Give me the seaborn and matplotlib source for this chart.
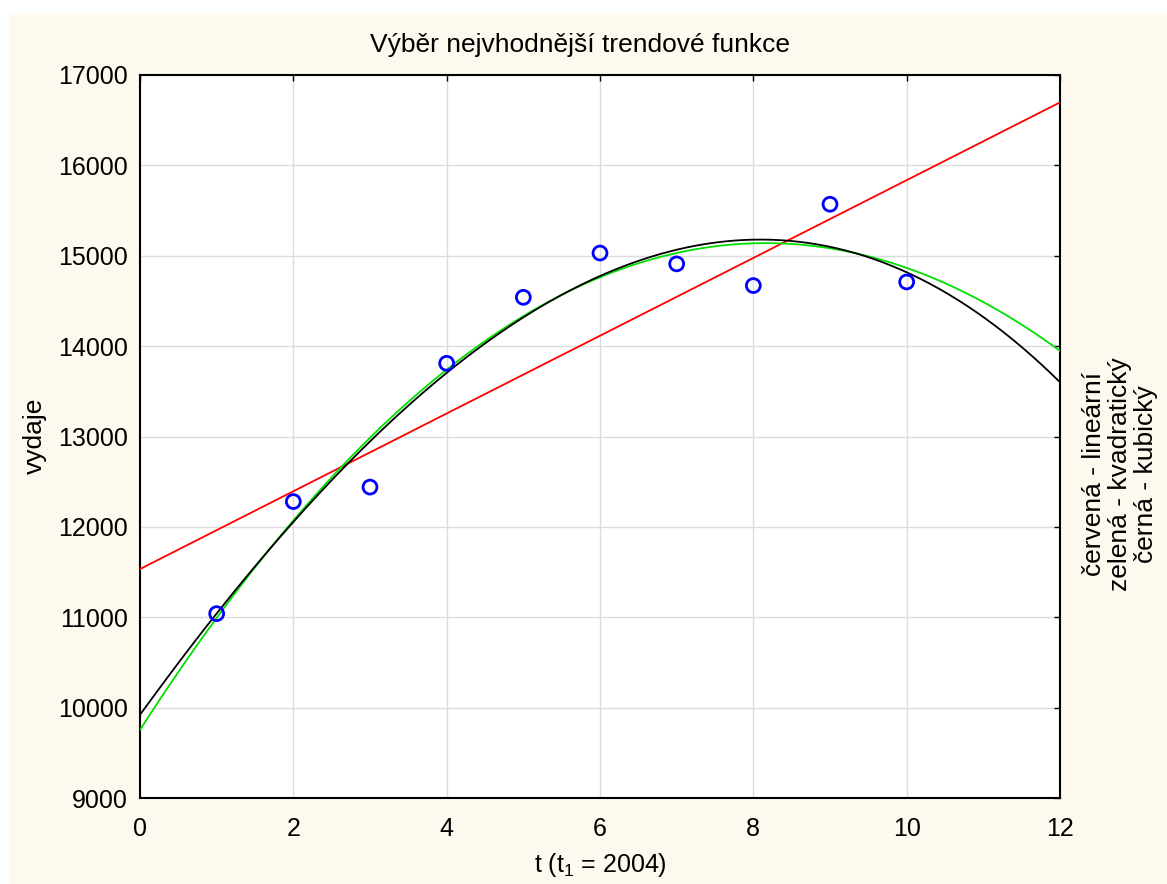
import matplotlib
matplotlib.use("Agg")
import matplotlib.pyplot as plt
import seaborn as sns
import pandas as pd
from matplotlib.patches import Rectangle

t = [1, 2, 3, 4, 5, 6, 7, 8, 9, 10]
vydaje = [11040, 12280, 12440, 13810, 14540, 15030, 14910, 14670, 15570, 14710]
x_ticks = [0, 2, 4, 6, 8, 10, 12]
y_ticks = [9000, 10000, 11000, 12000, 13000, 14000, 15000, 16000, 17000]
title = "Výběr nejvhodnější trendové funkce"
xlabel = "t (t$_1$ = 2004)"
ylabel = "vydaje"
note = "červená - lineární\nzelená - kvadratický\nčerná - kubický"

df = pd.DataFrame({"t": t, "vydaje": vydaje})

sns.set_style("white")
plt.rcParams["font.family"] = ["Liberation Sans", "DejaVu Sans"]
plt.rcParams["mathtext.fontset"] = "custom"
plt.rcParams["mathtext.rm"] = "Liberation Sans"
plt.rcParams["text.color"] = "black"

W, H = 1167, 884
fig = plt.figure(figsize=(W / 100, H / 100), dpi=100)
fig.patch.set_facecolor("white")
fig.patches.append(Rectangle((9 / W, 0), 1 - 9 / W, 1 - 13 / H, transform=fig.transFigure,
                             facecolor="#FEF9EE", edgecolor="none", zorder=-10))

ax = fig.add_axes([140 / W, 1 - 798 / H, (1060 - 140) / W, (798 - 75) / H])
ax.set_facecolor("white")
ax.set_xlim(0, 12)
ax.set_ylim(9000, 17000)

line_kw = dict(scatter=False, ci=None, truncate=False, ax=ax)
sns.regplot(data=df, x="t", y="vydaje", order=1, line_kws=dict(color="#FF0000", lw=1.3, zorder=3), **line_kw)
sns.regplot(data=df, x="t", y="vydaje", order=2, line_kws=dict(color="#00E000", lw=1.3, zorder=3), **line_kw)
sns.regplot(data=df, x="t", y="vydaje", order=3, line_kws=dict(color="#000000", lw=1.3, zorder=4), **line_kw)
sns.scatterplot(data=df, x="t", y="vydaje", ax=ax, marker="o", s=100,
                facecolor="none", edgecolor="#0000FF", linewidth=2, zorder=5)

ax.set_xlim(0, 12)
ax.set_ylim(9000, 17000)
ax.set_xticks(x_ticks)
ax.set_yticks(y_ticks)
ax.grid(True, color="#DCDCDC", lw=1)
ax.set_axisbelow(True)
ax.tick_params(direction="in", length=4, width=1, top=True, right=True,
               labelsize=18, colors="black")
ax.tick_params(axis="y", pad=9)
ax.tick_params(axis="x", pad=14)
for s in ax.spines.values():
    s.set_color("black")
    s.set_linewidth(1.5)

ax.set_xlabel("")
ax.set_ylabel("")
fig.text(580 / W, 1 - 45 / H, title, ha="center", va="center", fontsize=19, color="black")
fig.text(600 / W, 1 - 865 / H, xlabel, ha="center", va="center", fontsize=18, color="black")
fig.text(35 / W, 1 - 436 / H, ylabel, ha="center", va="center", fontsize=19, rotation=90, color="black")
fig.text(1120 / W, 1 - 474 / H, note, ha="center", va="center", fontsize=19, color="black",
         rotation=90, multialignment="center", linespacing=1.1)

fig.savefig("out.png", dpi=100)
